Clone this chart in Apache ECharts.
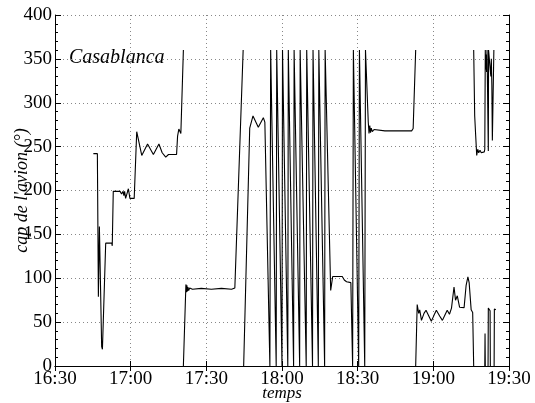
<!DOCTYPE html>
<html>
<head>
<meta charset="utf-8">
<script src="https://cdn.jsdelivr.net/npm/echarts@6/dist/echarts.min.js"></script>
<style>
  html, body { margin: 0; padding: 0; background: #fff; }
  #main { width: 535px; height: 403px; }
</style>
</head>
<body>
<div id="main"></div>
<script>
// temps en minutes depuis minuit, cap en degrés
const xTicks = ['16:30', '17:00', '17:30', '18:00', '18:30', '19:00', '19:30']
const yTicks = [0, 50, 100, 150, 200, 250, 300, 350, 400]

// arrivée 16:45 - 17:21
const approach = [
  [1005.2, 242], [1006.8, 242], [1007.2, 79], [1007.6, 159], [1008.5, 22], [1008.8, 19],
  [1009.1, 19], [1010.1, 140], [1012.5, 140], [1012.7, 137], [1013.1, 199], [1015.8, 199],
  [1016.4, 196], [1017.0, 199], [1017.3, 194], [1017.6, 199], [1018.0, 191], [1018.6, 197],
  [1019.1, 202], [1019.7, 191], [1021.4, 191], [1022.4, 267], [1024.4, 240], [1026.7, 253],
  [1029.0, 241], [1031.2, 253], [1032.5, 243], [1033.9, 238], [1035.0, 241], [1038.2, 241],
  [1038.6, 262], [1039.1, 270], [1039.9, 265], [1040.9, 360]
]

// palier à 88°
const holding = [
  [1040.9, 0], [1041.9, 93], [1042.1, 84], [1042.3, 92], [1042.5, 85], [1042.7, 90],
  [1043.0, 86], [1043.4, 89], [1044.5, 87.5], [1048.0, 88.5], [1052.0, 87.5], [1056.0, 88.5],
  [1060.0, 87.5], [1061.3, 89], [1064.6, 360]
]

// virage, tours à gauche, puis palier 270°
const circling = [
  [1064.8, 0], [1067.2, 271], [1068.5, 285], [1070.6, 272], [1072.6, 283], [1073.2, 278],
  [1075.2, 0], [1075.5, 360], [1077.7, 0], [1077.9, 360], [1080.0, 0], [1080.2, 360],
  [1082.3, 0], [1082.5, 360], [1084.6, 0], [1084.8, 360], [1087.0, 0], [1087.2, 360],
  [1089.6, 0], [1089.8, 360], [1092.1, 0], [1092.3, 360], [1094.4, 0], [1094.6, 360],
  [1096.9, 0], [1097.1, 360], [1099.3, 86], [1100.1, 102], [1103.9, 102], [1104.7, 98],
  [1105.6, 96], [1107.3, 95], [1108.0, 0], [1108.3, 360], [1110.4, 0], [1110.7, 360],
  [1112.8, 0], [1113.1, 360], [1114.2, 278], [1114.5, 265], [1114.8, 274], [1115.1, 266],
  [1115.4, 271], [1115.8, 267], [1116.5, 269.5], [1120.8, 268], [1131.4, 268], [1132.0, 270.7],
  [1133.0, 360]
]

// 19:00 - 19:15
const lateLeg = [
  [1133.0, 0], [1133.6, 70], [1134.2, 60], [1134.6, 64], [1135.3, 52], [1136.3, 60],
  [1137.1, 63.5], [1138.2, 57], [1139.2, 51], [1140.3, 58], [1141.2, 63.5], [1142.5, 57],
  [1143.6, 52], [1144.6, 58], [1145.5, 63.5], [1146.4, 59], [1147.2, 66], [1148.2, 90],
  [1148.8, 75], [1149.5, 80], [1150.4, 67], [1152.2, 66.5], [1153.0, 92], [1153.7, 101.5],
  [1154.2, 95], [1155.0, 64], [1155.6, 61], [1156.0, 0]
]

// fin : autour du nord
const finalTop = [
  [1156.0, 360], [1156.4, 285], [1156.8, 262], [1157.2, 240], [1157.6, 247], [1158.0, 243],
  [1158.5, 246], [1159.0, 243], [1159.6, 245], [1160.2, 244], [1160.4, 247], [1160.6, 360],
  [1160.7, 338], [1160.9, 355], [1161.1, 335], [1161.3, 360], [1161.7, 360], [1161.8, 245],
  [1161.9, 360], [1162.6, 360], [1162.8, 330], [1163.0, 350], [1163.2, 320], [1163.4, 257],
  [1164.0, 360]
]
const finalLow1 = [[1160.4, 0], [1160.5, 37], [1160.6, 0]]
const finalLow2 = [[1161.7, 0], [1161.8, 66], [1162.2, 65], [1162.5, 63], [1162.6, 0]]
const finalLow3 = [[1164.1, 0], [1164.2, 65], [1164.8, 64]]

const segments = [approach, holding, circling, lateLeg, finalTop, finalLow1, finalLow2, finalLow3]

const serif = 'Liberation Serif'
const dotted = { show: true, lineStyle: { color: '#888', type: [1, 3], width: 1 } }

let myChart = echarts.init(document.getElementById('main'))

let option = {
    animation: false,
    backgroundColor: '#fff',
    grid: { left: 55, right: 26, top: 15, bottom: 37, containLabel: false, outerBoundsMode: 'none' },
    graphic: [{
        type: 'text',
        left: 69,
        top: 48,
        style: { text: 'Casablanca', font: 'italic 20px "Liberation Serif"', fill: '#000' }
    }],
    xAxis: [
        {
            type: 'value', position: 'bottom', min: 990, max: 1170, interval: 30,
            name: 'temps', nameLocation: 'middle', nameGap: 19, nameMoveOverlap: false,
            nameTextStyle: { fontFamily: serif, fontStyle: 'italic', fontSize: 17, color: '#000' },
            axisLine: { lineStyle: { color: '#000', width: 1 } },
            axisTick: { inside: true, length: 5, lineStyle: { color: '#000' } },
            axisLabel: {
                margin: 4, fontFamily: serif, fontSize: 19, color: '#000',
                formatter: v => xTicks[Math.round((v - 990) / 30)]
            },
            splitLine: dotted
        },
        {
            type: 'value', position: 'top', min: 990, max: 1170, interval: 30,
            axisLine: { lineStyle: { color: '#000', width: 1 } },
            axisTick: { inside: true, length: 5, lineStyle: { color: '#000' } },
            axisLabel: { show: false },
            splitLine: { show: false }
        }
    ],
    yAxis: [
        {
            type: 'value', position: 'left', min: 0, max: 400, interval: 50,
            name: "cap de l'avion (°)", nameLocation: 'middle', nameGap: 24, nameMoveOverlap: false,
            nameTextStyle: { fontFamily: serif, fontStyle: 'italic', fontSize: 18, color: '#000' },
            axisLine: { show: true, lineStyle: { color: '#000', width: 1 } },
            axisTick: { show: true, inside: true, length: 6, lineStyle: { color: '#000' } },
            minorTick: { show: true, splitNumber: 5, length: 3, lineStyle: { color: '#000' } },
            axisLabel: {
                margin: 3, fontFamily: serif, fontSize: 19, color: '#000',
                formatter: v => String(yTicks[Math.round(v / 50)])
            },
            splitLine: dotted
        },
        {
            type: 'value', position: 'right', min: 0, max: 400, interval: 50,
            axisLine: { show: true, lineStyle: { color: '#000', width: 1 } },
            axisTick: { show: true, inside: true, length: 6, lineStyle: { color: '#000' } },
            minorTick: { show: true, splitNumber: 5, length: 3, lineStyle: { color: '#000' } },
            axisLabel: { show: false },
            splitLine: { show: false }
        }
    ],
    series: segments.map(seg => ({
        type: 'line',
        data: seg,
        xAxisIndex: 0,
        yAxisIndex: 0,
        showSymbol: false,
        symbol: 'none',
        lineStyle: { color: '#000', width: 1.1 }
    }))
}

myChart.setOption(option)
</script>
</body>
</html>
